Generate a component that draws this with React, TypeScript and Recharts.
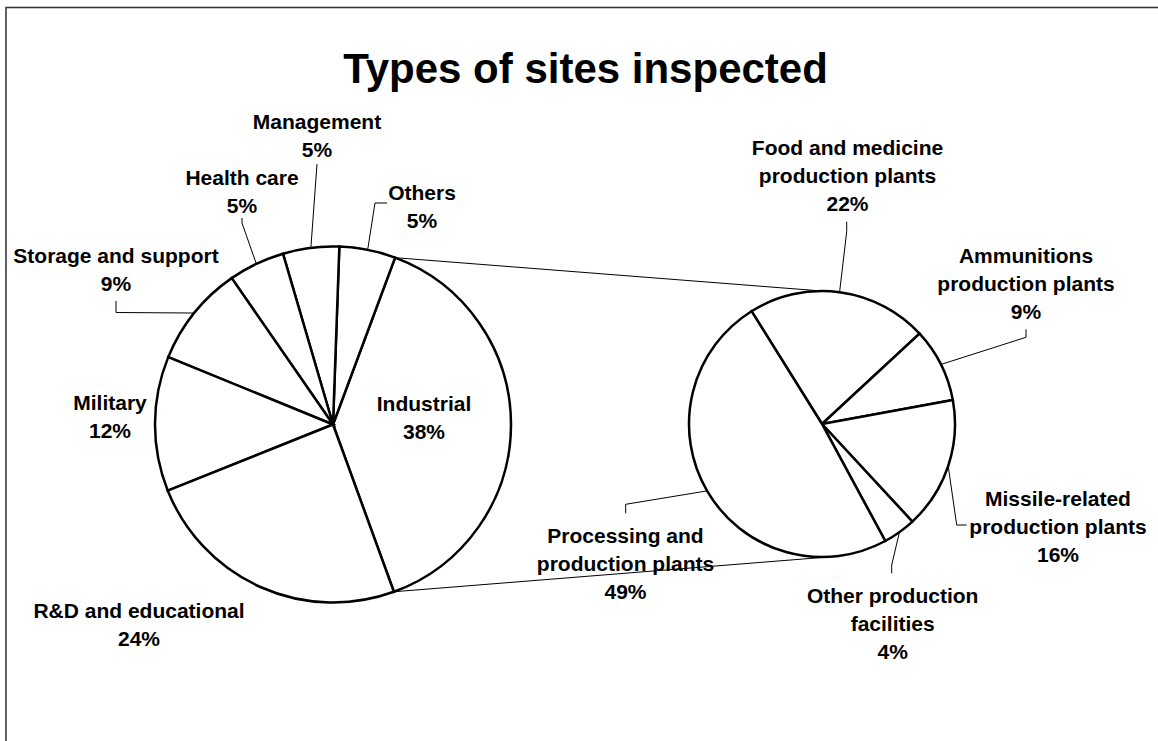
import { PieChart, Pie } from 'recharts';

// main pie: share of all inspected sites (%)
const siteTypes = [
  'Industrial',
  'Others',
  'Management',
  'Health care',
  'Storage and support',
  'Military',
  'R&D and educational',
];
const siteShares = [38, 5, 5, 5, 9, 12, 24];

// secondary pie: breakdown of the industrial slice (%)
const industrialTypes = [
  'Food and medicine\nproduction plants',
  'Ammunitions\nproduction plants',
  'Missile-related\nproduction plants',
  'Other production\nfacilities',
  'Processing and\nproduction plants',
];
const industrialShares = [22, 9, 16, 4, 49];

const W = 1158;
const H = 741;
const MAIN = { cx: 333, cy: 424.5, r: 178 };
const SUB = { cx: 822, cy: 424, r: 133 };
const FONT = '"Liberation Sans", Arial, Helvetica, sans-serif';
const LINE_H = 28;
const RAD = Math.PI / 180;

type LabelPos = { dx: number; dy: number; leader?: [number, number][] };

// label text centre / first baseline and leader bends, relative to the pie centre
const mainLabelPos: LabelPos[] = [
  { dx: 91, dy: -13.5 },
  { dx: 89, dy: -224.5, leader: [[42, -221.5], [54, -221.5]] },
  { dx: -16, dy: -296, leader: [[-16, -260.5]] },
  { dx: -91, dy: -239.5, leader: [[-91, -201.5], [-91, -206.5]] },
  { dx: -217, dy: -162, leader: [[-217, -112], [-217, -123.5]] },
  { dx: -223, dy: -14.5 },
  { dx: -194, dy: 193 },
];
const subLabelPos: LabelPos[] = [
  { dx: 25.5, dy: -269, leader: [[24.7, -192.3], [24.7, -202.3]] },
  { dx: 204, dy: -160.7, leader: [[204, -86.7], [204, -94.7]] },
  { dx: 236, dy: 82, leader: [[134.7, 101], [144.7, 101]] },
  { dx: 70.7, dy: 179.3, leader: [[69.7, 141], [69.7, 149.3]] },
  { dx: -196.5, dy: 119.3, leader: [[-196.3, 80.3], [-196.3, 89.3]] },
];

const mainData = siteTypes.map((name, i) => ({ name, value: siteShares[i] }));
const subData = industrialTypes.map((name, i) => ({ name, value: industrialShares[i] }));

const polar = (cx: number, cy: number, r: number, a: number) => [
  cx + r * Math.cos(-a * RAD),
  cy + r * Math.sin(-a * RAD),
];

function makeLabel(positions: LabelPos[], connectIndex: number | null) {
  return (p: any) => {
    const cx = Number(p.cx);
    const cy = Number(p.cy);
    const r = Number(p.outerRadius);
    const pos = positions[p.index];
    const name = p.payload?.name ?? p.name;
    const value = p.payload?.value ?? p.value;
    const lines = String(name).split('\n').concat(`${value}%`);
    const x = cx + pos.dx;
    const y = cy + pos.dy;

    let leader = null;
    if (pos.leader) {
      const start = polar(cx, cy, r, p.midAngle);
      const pts = [start, ...pos.leader.map(([a, b]) => [cx + a, cy + b])];
      leader = (
        <polyline
          points={pts.map((q) => q.join(',')).join(' ')}
          fill="none"
          stroke="#000"
          strokeWidth={1}
        />
      );
    }

    let connector = null;
    if (connectIndex !== null && p.index === connectIndex) {
      const [tx, ty] = polar(cx, cy, r, p.endAngle);
      const [bx, by] = polar(cx, cy, r, p.startAngle);
      connector = (
        <g>
          <line x1={tx} y1={ty} x2={SUB.cx} y2={SUB.cy - SUB.r} stroke="#000" strokeWidth={1} />
          <line x1={bx} y1={by} x2={SUB.cx + 6} y2={SUB.cy + SUB.r} stroke="#000" strokeWidth={1} />
        </g>
      );
    }

    return (
      <g key={`lbl-${p.index}`}>
        {connector}
        {leader}
        <text
          x={x}
          y={y}
          textAnchor="middle"
          fontFamily={FONT}
          fontWeight="bold"
          fontSize={21}
          fill="#000"
        >
          {lines.map((t, i) => (
            <tspan key={i} x={x} dy={i === 0 ? 0 : LINE_H}>
              {t}
            </tspan>
          ))}
        </text>
      </g>
    );
  };
}

export default function App() {
  return (
    <div style={{ position: 'absolute', left: 0, top: 0, width: W, height: H, background: '#fff' }}>
      <PieChart width={W} height={H} margin={{ top: 0, right: 0, bottom: 0, left: 0 }}>
        <rect x={6} y={7.5} width={1400} height={1000} fill="none" stroke="#3a3a3a" strokeWidth={1.6} />
        <text
          x={585.5}
          y={83}
          textAnchor="middle"
          fontFamily={FONT}
          fontWeight="bold"
          fontSize={42}
          fill="#000"
        >
          Types of sites inspected
        </text>
        <Pie
          data={mainData}
          dataKey="value"
          nameKey="name"
          cx={MAIN.cx}
          cy={MAIN.cy}
          outerRadius={MAIN.r}
          startAngle={-70}
          endAngle={290}
          fill="#fff"
          stroke="#000"
          strokeWidth={2.5}
          label={makeLabel(mainLabelPos, 0)}
          labelLine={false}
          isAnimationActive={false}
        />
        <Pie
          data={subData}
          dataKey="value"
          nameKey="name"
          cx={SUB.cx}
          cy={SUB.cy}
          outerRadius={SUB.r}
          startAngle={122}
          endAngle={-238}
          fill="#fff"
          stroke="#000"
          strokeWidth={2.5}
          label={makeLabel(subLabelPos, null)}
          labelLine={false}
          isAnimationActive={false}
        />
      </PieChart>
    </div>
  );
}
